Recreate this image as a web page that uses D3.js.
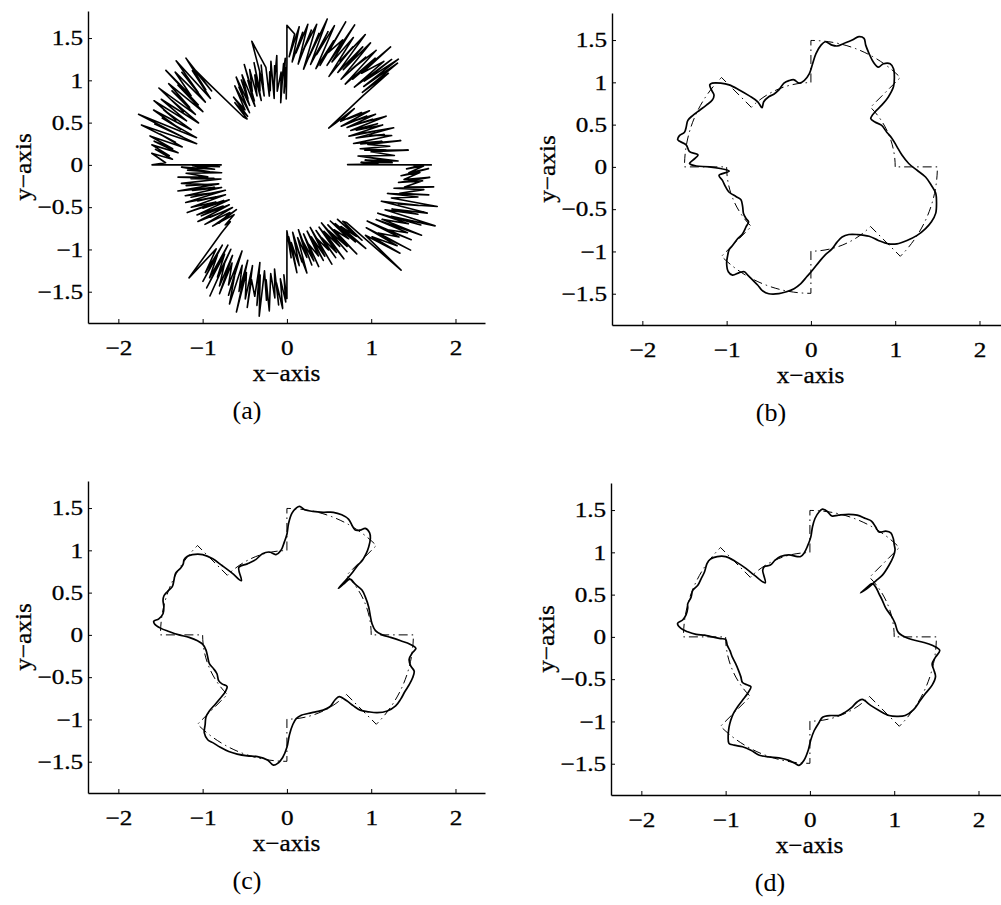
<!DOCTYPE html>
<html>
<head>
<meta charset="utf-8">
<script src="https://cdn.jsdelivr.net/npm/d3@7"></script>
<style>
  body { margin: 0; background: #fff; }
  svg text { font-family: "Liberation Serif", "Times New Roman", serif; fill: #000; }
</style>
</head>
<body>
<div id="chart"></div>
<script>
// tick values and panel captions shared by the four plots
const xTicks = [-2, -1, 0, 1, 2];
const yTicks = [-1.5, -1, -0.5, 0, 0.5, 1, 1.5];
const panelNames = ["(a)", "(b)", "(c)", "(d)"];

// desired path (dash-dot): start angle of each 45 degree sector and its radius
const refSectorStart = [0, 45, 90, 135, 180, 225, 270, 315];
const refSectorRadius = [1, 1.5, 1, 1.5, 1, 1.5, 1, 1.5];

// (a) measured noisy path, [angle in degrees, radius], one array per sector
const noisyS1 = [[0,1.72],[0.2,0.72],[0.5,1.08],[1.9,0.88],[1.2,1.25],[3.5,0.93],[2.0,1.32],[5.3,0.97],[3.2,1.13],[7.1,0.85],[5.0,1.28],[8.8,1.01],[6.9,1.45],[10.6,0.94],[8.5,1.19],[12.4,0.89],[10.2,1.24],[14.1,0.99],[12.0,1.38],[15.8,0.91],[13.9,1.16],[17.7,0.83],[15.6,1.29],[19.5,1.04],[17.3,1.21],[21.2,0.88],[19.1,1.34],[23.0,0.96],[20.9,1.12],[24.8,0.81],[22.6,1.23],[26.5,0.92],[24.4,1.18],[28.3,0.86],[26.1,1.31],[30.0,0.97],[27.9,1.15],[31.8,0.84],[29.7,1.21],[33.5,0.93],[31.4,1.11],[35.3,0.79],[33.2,1.17],[37.1,0.9],[35.0,1.08],[38.9,0.82],[39.8,1.04],[40.6,0.76],[41.3,0.66],[42.2,1.22]];
const noisyS2 = [[42.0,1.62],[43.8,1.24],[42.5,1.78],[45.5,1.3],[43.4,1.82],[47.2,1.35],[45.1,1.76],[49.0,1.22],[46.8,1.68],[50.7,1.4],[48.6,1.86],[52.4,1.28],[50.3,1.64],[54.1,1.18],[52.0,1.72],[55.9,1.36],[53.7,1.58],[57.6,1.2],[55.5,1.75],[59.3,1.31],[57.2,1.66],[61.1,1.25],[58.9,1.8],[62.8,1.38],[60.7,1.6],[64.5,1.16],[62.4,1.7],[66.3,1.33],[64.1,1.84],[68.0,1.27],[65.9,1.62],[69.7,1.42],[67.6,1.83],[71.5,1.24],[69.3,1.57],[73.2,1.19],[71.1,1.74],[74.9,1.35],[72.8,1.65],[76.7,1.22],[74.5,1.79],[78.4,1.3],[76.3,1.6],[80.1,1.15],[78.0,1.7],[81.9,1.37],[79.7,1.62],[83.6,1.2],[81.5,1.68],[85.3,1.33],[83.2,1.58],[87.1,1.22],[84.9,1.64],[88.8,1.28],[86.6,1.55],[90.0,1.65],[90.0,1.2]];
const noisyS3 = [[90.6,0.78],[90.4,1.15],[92.3,0.85],[90.9,1.26],[94.0,0.92],[91.9,1.2],[95.7,0.74],[93.6,1.1],[97.5,0.88],[95.3,1.3],[99.2,0.95],[97.1,1.18],[100.9,0.8],[98.8,1.24],[102.7,0.9],[100.5,1.12],[104.4,0.84],[102.2,1.18],[105.9,1.52],[106.6,0.98],[104.5,1.22],[108.3,0.86],[106.2,1.16],[110.1,0.93],[107.9,1.27],[111.8,0.82],[109.7,1.13],[113.5,0.89],[111.4,1.21],[115.3,0.96],[113.1,1.29],[117.0,0.85],[114.9,1.1],[118.7,0.79],[116.6,1.19],[120.5,0.91],[118.3,1.14],[122.2,0.83],[120.1,1.2],[123.9,0.88],[121.8,1.08],[125.7,0.76],[123.5,1.12],[127.4,0.82],[128.3,1.02],[129.1,0.74],[130.0,0.96],[131.0,0.72],[132.3,0.77],[134.0,1.36]];
const noisyS4 = [[134.2,1.62],[135.6,1.25],[133.5,1.74],[137.3,1.31],[135.2,1.58],[139.1,1.2],[136.9,1.8],[140.8,1.36],[138.7,1.66],[142.5,1.22],[140.4,1.72],[144.3,1.4],[142.1,1.82],[146.0,1.27],[143.9,1.6],[147.7,1.18],[145.6,1.7],[149.5,1.34],[147.3,1.62],[151.2,1.24],[149.1,1.77],[152.9,1.38],[150.8,1.56],[154.7,1.16],[152.5,1.68],[156.4,1.3],[154.3,1.75],[158.1,1.42],[156.0,1.6],[159.9,1.21],[157.7,1.71],[161.6,1.33],[159.5,1.58],[163.3,1.12],[161.2,1.86],[165.1,1.28],[162.9,1.64],[166.8,1.1],[164.7,1.79],[168.5,1.35],[166.4,1.55],[170.3,1.26],[168.1,1.66],[172.0,1.37],[169.9,1.6],[173.7,1.3],[171.6,1.62],[175.5,1.4],[173.3,1.57],[177.2,1.36],[175.1,1.61],[179.0,1.44],[180.0,1.6],[180.0,0.78]];
const noisyS5 = [[180.8,1.02],[181.6,0.8],[180.5,1.12],[183.4,0.86],[181.2,1.25],[185.1,0.92],[183.0,1.18],[186.8,0.78],[184.7,1.2],[188.6,0.95],[186.4,1.3],[190.3,0.88],[188.2,1.15],[192.0,0.8],[189.9,1.27],[193.8,0.97],[191.6,1.22],[195.5,0.84],[193.4,1.33],[197.2,0.9],[195.1,1.16],[199.0,0.82],[196.8,1.26],[200.7,0.94],[198.6,1.2],[202.4,0.79],[200.3,1.28],[204.2,0.92],[202.0,1.14],[205.9,0.81],[203.8,1.24],[207.6,0.95],[205.5,1.31],[209.4,0.86],[207.2,1.12],[211.1,0.8],[209.0,1.22],[212.8,0.9],[210.7,1.18],[214.6,0.83],[212.4,1.25],[216.3,0.93],[214.2,1.1],[218.0,0.82],[215.9,1.2],[219.8,0.88],[220.6,1.06],[221.5,0.8],[219.4,1.14],[223.2,0.86],[224.1,1.02],[225.0,0.95],[226.0,1.12],[229.0,1.77]];
const noisyS6 = [[229.8,1.3],[232.8,1.6],[231.1,1.22],[234.1,1.7],[232.3,1.35],[235.5,1.62],[233.6,1.18],[236.8,1.74],[235.0,1.29],[238.1,1.56],[236.3,1.2],[239.5,1.8],[237.6,1.38],[240.8,1.64],[238.9,1.25],[242.3,1.72],[240.7,1.33],[244.0,1.58],[242.4,1.15],[245.8,1.69],[244.1,1.4],[247.5,1.78],[245.9,1.3],[249.2,1.6],[247.6,1.22],[251.0,1.84],[249.3,1.36],[252.7,1.66],[251.1,1.26],[254.4,1.75],[252.8,1.42],[256.2,1.6],[254.5,1.2],[257.9,1.7],[256.3,1.34],[259.6,1.82],[258.0,1.28],[261.4,1.62],[259.7,1.38],[263.1,1.74],[261.5,1.3],[264.8,1.58],[263.2,1.24],[266.6,1.66],[264.9,1.4],[268.3,1.7],[266.7,1.35],[269.5,1.62],[268.4,1.3],[269.8,1.56],[270.0,1.58],[270.0,0.78]];
const noisyS7 = [[272.6,1.1],[271.4,0.85],[275.3,1.28],[273.2,0.92],[277.0,1.2],[274.9,0.8],[278.8,1.16],[276.6,0.95],[280.5,1.3],[278.4,0.87],[282.2,1.12],[280.1,0.78],[284.0,1.22],[281.8,0.92],[285.7,1.18],[283.6,0.84],[287.4,1.26],[285.3,0.97],[289.2,1.14],[287.0,0.82],[290.9,1.21],[288.8,0.9],[292.6,1.17],[290.5,0.79],[294.4,1.29],[292.2,0.94],[296.1,1.12],[294.0,0.85],[297.8,1.24],[295.7,0.96],[299.6,1.19],[297.4,0.83],[301.3,1.3],[299.2,0.9],[303.0,1.15],[300.9,0.8],[304.8,1.25],[302.6,0.93],[306.5,1.2],[304.4,0.86],[308.2,1.34],[306.1,0.95],[310.0,1.14],[307.8,0.84],[311.7,1.22],[309.6,0.9],[313.4,1.36],[311.3,0.97],[314.2,1.18],[313.0,0.88],[315.0,1.26],[314.8,0.94],[316.0,0.98],[317.4,1.84]];
const noisyS8 = [[318.2,1.25],[322.1,1.7],[319.9,1.32],[323.8,1.62],[321.7,1.2],[325.5,1.78],[323.4,1.35],[327.3,1.58],[325.1,1.16],[329.0,1.72],[326.9,1.4],[330.7,1.64],[328.6,1.24],[332.5,1.8],[330.3,1.3],[334.2,1.6],[332.1,1.22],[335.9,1.74],[333.8,1.38],[337.7,1.9],[335.5,1.28],[339.4,1.66],[337.3,1.35],[341.1,1.76],[339.0,1.2],[342.9,1.63],[340.7,1.4],[344.6,1.85],[342.5,1.3],[346.3,1.6],[344.2,1.24],[348.1,1.72],[345.9,1.38],[349.8,1.65],[347.7,1.3],[351.5,1.76],[349.4,1.42],[353.3,1.62],[351.1,1.34],[355.0,1.7],[352.9,1.4],[356.7,1.58],[354.6,1.36],[358.5,1.68],[356.3,1.45],[359.5,1.62],[358.1,1.42],[359.8,1.6],[359.6,1.5]];

// (b)-(d) tracked paths, [x, y], read clockwise from the upper left arm
const trackB = [[-0.32,0.99],[-0.26,1.02],[-0.2,1.03],[-0.14,0.99],[-0.08,1.02],[-0.02,1.1],[0.02,1.22],[0.06,1.34],[0.12,1.44],[0.17,1.48],[0.25,1.44],[0.31,1.43],[0.39,1.46],[0.49,1.5],[0.57,1.54],[0.63,1.52],[0.65,1.44],[0.69,1.34],[0.74,1.24],[0.8,1.18],[0.86,1.22],[0.94,1.22],[0.98,1.16],[0.99,1.06],[0.98,0.95],[0.92,0.83],[0.84,0.73],[0.76,0.65],[0.71,0.57],[0.76,0.53],[0.84,0.49],[0.9,0.41],[0.96,0.34],[1.02,0.24],[1.08,0.14],[1.16,0.04],[1.26,-0.04],[1.36,-0.12],[1.43,-0.22],[1.48,-0.31],[1.49,-0.43],[1.48,-0.55],[1.43,-0.65],[1.36,-0.73],[1.26,-0.81],[1.14,-0.87],[1.02,-0.91],[0.92,-0.91],[0.8,-0.87],[0.69,-0.82],[0.55,-0.8],[0.45,-0.8],[0.37,-0.83],[0.31,-0.89],[0.25,-0.97],[0.17,-1.04],[0.1,-1.12],[0.02,-1.22],[-0.05,-1.3],[-0.12,-1.38],[-0.2,-1.44],[-0.3,-1.48],[-0.38,-1.5],[-0.5,-1.5],[-0.58,-1.46],[-0.63,-1.4],[-0.69,-1.34],[-0.75,-1.28],[-0.79,-1.24],[-0.85,-1.25],[-0.93,-1.28],[-0.98,-1.24],[-1.0,-1.14],[-0.99,-1.06],[-0.97,-0.98],[-0.93,-0.93],[-0.87,-0.85],[-0.81,-0.79],[-0.77,-0.71],[-0.74,-0.65],[-0.77,-0.61],[-0.8,-0.55],[-0.81,-0.47],[-0.83,-0.39],[-0.89,-0.35],[-0.97,-0.3],[-1.01,-0.24],[-1.05,-0.16],[-1.09,-0.1],[-0.97,-0.05],[-1.2,0.0],[-1.36,0.01],[-1.44,0.04],[-1.4,0.08],[-1.34,0.14],[-1.44,0.18],[-1.48,0.26],[-1.58,0.32],[-1.56,0.37],[-1.5,0.41],[-1.48,0.47],[-1.46,0.55],[-1.4,0.61],[-1.32,0.67],[-1.24,0.73],[-1.17,0.79],[-1.15,0.85],[-1.18,0.91],[-1.2,0.97],[-1.17,0.99],[-1.07,0.99],[-0.97,0.97],[-0.85,0.91],[-0.73,0.84],[-0.63,0.77],[-0.58,0.7],[-0.56,0.77],[-0.5,0.83],[-0.44,0.86],[-0.38,0.91]];
const trackC = [[-0.54,0.64],[-0.57,0.8],[-0.47,0.84],[-0.37,0.89],[-0.29,0.96],[-0.21,0.98],[-0.13,0.95],[-0.07,1.0],[-0.03,1.1],[0.0,1.19],[0.02,1.32],[0.06,1.44],[0.11,1.5],[0.15,1.52],[0.21,1.48],[0.31,1.46],[0.43,1.45],[0.55,1.45],[0.65,1.42],[0.73,1.37],[0.77,1.3],[0.81,1.24],[0.87,1.24],[0.93,1.26],[0.98,1.21],[0.99,1.14],[0.97,1.04],[0.94,0.96],[0.9,0.89],[0.83,0.81],[0.77,0.73],[0.71,0.66],[0.61,0.55],[0.67,0.6],[0.75,0.66],[0.81,0.6],[0.89,0.53],[0.93,0.45],[0.97,0.33],[0.99,0.22],[1.01,0.13],[1.05,0.05],[1.13,0.0],[1.23,-0.03],[1.35,-0.07],[1.46,-0.11],[1.53,-0.16],[1.49,-0.21],[1.45,-0.29],[1.47,-0.37],[1.51,-0.43],[1.49,-0.51],[1.45,-0.59],[1.4,-0.67],[1.35,-0.76],[1.29,-0.84],[1.19,-0.9],[1.07,-0.92],[0.97,-0.91],[0.87,-0.89],[0.79,-0.84],[0.71,-0.78],[0.62,-0.73],[0.57,-0.77],[0.51,-0.85],[0.43,-0.89],[0.34,-0.91],[0.25,-0.93],[0.17,-0.95],[0.11,-0.99],[0.07,-1.06],[0.03,-1.18],[0.0,-1.33],[-0.05,-1.45],[-0.11,-1.52],[-0.16,-1.54],[-0.23,-1.48],[-0.35,-1.44],[-0.47,-1.43],[-0.59,-1.41],[-0.69,-1.38],[-0.79,-1.33],[-0.87,-1.28],[-0.94,-1.24],[-0.98,-1.16],[-0.97,-1.06],[-0.96,-0.97],[-0.92,-0.9],[-0.85,-0.82],[-0.79,-0.75],[-0.73,-0.67],[-0.71,-0.61],[-0.77,-0.58],[-0.81,-0.54],[-0.83,-0.46],[-0.87,-0.4],[-0.92,-0.34],[-0.94,-0.26],[-0.96,-0.18],[-1.0,-0.11],[-1.06,-0.07],[-1.16,-0.03],[-1.28,0.0],[-1.4,0.04],[-1.5,0.08],[-1.57,0.13],[-1.58,0.16],[-1.52,0.19],[-1.47,0.25],[-1.46,0.33],[-1.47,0.41],[-1.46,0.46],[-1.42,0.51],[-1.36,0.57],[-1.34,0.65],[-1.32,0.73],[-1.26,0.79],[-1.23,0.84],[-1.22,0.89],[-1.18,0.93],[-1.12,0.95],[-1.0,0.95],[-0.88,0.9],[-0.77,0.82],[-0.65,0.73]];
const trackD = [[-0.53,0.64],[-0.56,0.79],[-0.54,0.83],[-0.47,0.85],[-0.41,0.91],[-0.35,0.95],[-0.25,0.97],[-0.15,0.95],[-0.11,0.95],[-0.07,0.99],[-0.03,1.07],[0.01,1.18],[0.03,1.3],[0.06,1.4],[0.11,1.48],[0.15,1.51],[0.21,1.48],[0.26,1.43],[0.34,1.44],[0.46,1.45],[0.56,1.44],[0.66,1.4],[0.73,1.37],[0.78,1.3],[0.82,1.24],[0.9,1.25],[0.96,1.23],[0.99,1.16],[1.0,1.09],[1.01,1.03],[0.99,0.95],[0.94,0.85],[0.86,0.73],[0.78,0.66],[0.7,0.59],[0.6,0.52],[0.66,0.57],[0.74,0.63],[0.78,0.59],[0.82,0.51],[0.86,0.43],[0.9,0.34],[0.97,0.24],[1.01,0.16],[1.05,0.05],[1.17,-0.02],[1.33,-0.06],[1.45,-0.1],[1.54,-0.16],[1.49,-0.24],[1.45,-0.32],[1.47,-0.39],[1.49,-0.47],[1.45,-0.57],[1.37,-0.67],[1.31,-0.75],[1.23,-0.86],[1.13,-0.93],[1.03,-0.94],[0.94,-0.93],[0.82,-0.87],[0.72,-0.81],[0.62,-0.74],[0.56,-0.77],[0.5,-0.83],[0.42,-0.89],[0.34,-0.93],[0.25,-0.93],[0.15,-0.95],[0.11,-1.01],[0.05,-1.11],[0.01,-1.22],[-0.02,-1.34],[-0.07,-1.46],[-0.13,-1.52],[-0.17,-1.5],[-0.25,-1.46],[-0.37,-1.43],[-0.49,-1.42],[-0.6,-1.4],[-0.7,-1.34],[-0.8,-1.3],[-0.9,-1.28],[-0.96,-1.26],[-0.97,-1.18],[-0.96,-1.07],[-0.94,-0.99],[-0.91,-0.91],[-0.86,-0.83],[-0.8,-0.75],[-0.74,-0.67],[-0.7,-0.59],[-0.74,-0.57],[-0.8,-0.54],[-0.82,-0.47],[-0.85,-0.39],[-0.88,-0.32],[-0.92,-0.24],[-0.95,-0.16],[-0.98,-0.1],[-1.0,-0.03],[-1.06,-0.02],[-1.16,0.0],[-1.25,0.02],[-1.35,0.03],[-1.45,0.06],[-1.53,0.1],[-1.57,0.16],[-1.51,0.2],[-1.47,0.26],[-1.45,0.34],[-1.45,0.39],[-1.41,0.47],[-1.39,0.55],[-1.33,0.61],[-1.29,0.69],[-1.25,0.77],[-1.22,0.87],[-1.18,0.92],[-1.1,0.95],[-1.0,0.95],[-0.88,0.89],[-0.76,0.81],[-0.66,0.73]];

const width = 1001;
const height = 905;
const panelW = 397;
const panelH = 312;
const toRad = Math.PI / 180;

const noisy = [].concat(noisyS1, noisyS2, noisyS3, noisyS4, noisyS5, noisyS6, noisyS7, noisyS8);

const panels = [
  { left: 88, top: 11, name: panelNames[0], noisy: noisy },
  { left: 612, top: 13, name: panelNames[1], track: trackB },
  { left: 88, top: 481, name: panelNames[2], track: trackC },
  { left: 611, top: 483, name: panelNames[3], track: trackD }
];

// tick labels with a real minus sign and no trailing zeros
const fmt = d => (d < 0 ? "\u2212" : "") + Math.abs(d);

const svg = d3.select("#chart")
  .append("svg")
  .attr("width", width)
  .attr("height", height);

// dash-dot desired path built from the sector arrays
function refPath(xScale, yScale) {
  const path = d3.path();
  const cx = xScale(0);
  const cy = yScale(0);
  const unit = xScale(1) - xScale(0);
  refSectorStart.forEach(function(a0, i) {
    const a1 = i + 1 < refSectorStart.length ? refSectorStart[i + 1] : 360;
    const r = refSectorRadius[i] * unit;
    if (i === 0) path.moveTo(cx + r * Math.cos(-a0 * toRad), cy + r * Math.sin(-a0 * toRad));
    path.arc(cx, cy, r, -a0 * toRad, -a1 * toRad, true);
  });
  path.closePath();
  return path.toString();
}

panels.forEach(function(p) {

  const xScale = d3.scaleLinear()
    .domain([-2.36, 2.35])
    .range([p.left, p.left + panelW]);

  const yScale = d3.scaleLinear()
    .domain([-1.87, 1.82])
    .range([p.top + panelH, p.top]);

  const g = svg.append("g");

  if (p.noisy) {
    const line = d3.line()
      .x(d => xScale(d[1] * Math.cos(d[0] * toRad)))
      .y(d => yScale(d[1] * Math.sin(d[0] * toRad)));

    g.append("path")
      .datum(p.noisy)
      .attr("d", line)
      .attr("fill", "none")
      .attr("stroke", "#000")
      .attr("stroke-width", 1.6)
      .attr("stroke-linejoin", "round");
  } else {
    g.append("path")
      .attr("d", refPath(xScale, yScale))
      .attr("fill", "none")
      .attr("stroke", "#000")
      .attr("stroke-width", 1)
      .attr("stroke-dasharray", "9,4,1.5,4");

    const line = d3.line()
      .x(d => xScale(d[0]))
      .y(d => yScale(d[1]))
      .curve(d3.curveCatmullRomClosed.alpha(0.5));

    g.append("path")
      .datum(p.track)
      .attr("d", line)
      .attr("fill", "none")
      .attr("stroke", "#000")
      .attr("stroke-width", 1.7)
      .attr("stroke-linejoin", "round");
  }

  // MATLAB style axes: left and bottom only, ticks pointing inwards
  const xAxis = g.append("g")
    .attr("transform", `translate(0,${p.top + panelH})`)
    .call(d3.axisBottom(xScale).tickValues(xTicks).tickFormat(fmt)
      .tickSizeInner(-4).tickSizeOuter(0).tickPadding(17));

  const yAxis = g.append("g")
    .attr("transform", `translate(${p.left},0)`)
    .call(d3.axisLeft(yScale).tickValues(yTicks).tickFormat(fmt)
      .tickSizeInner(-4).tickSizeOuter(0).tickPadding(4));

  [xAxis, yAxis].forEach(function(a) {
    a.attr("font-size", 21).attr("font-family", "Liberation Serif, serif");
    a.select(".domain").attr("stroke", "#000").attr("stroke-width", 1.4);
    a.selectAll(".tick line").attr("stroke", "#000").attr("stroke-width", 1);
    a.selectAll(".tick text")
      .attr("fill", "#000")
      .attr("stroke", "#000")
      .attr("stroke-width", 0.3)
      .attr("transform", "scale(1.2,1)");
  });

  g.append("text")
    .attr("transform", `translate(${p.left + panelW / 2},${p.top + panelH + 58}) scale(1.1,1)`)
    .attr("text-anchor", "middle")
    .attr("font-size", 23)
    .attr("stroke", "#000")
    .attr("stroke-width", 0.3)
    .text("x\u2212axis");

  g.append("text")
    .attr("transform", `translate(${p.left - 57},${p.top + panelH / 2}) rotate(-90) scale(1.1,1)`)
    .attr("text-anchor", "middle")
    .attr("font-size", 23)
    .attr("stroke", "#000")
    .attr("stroke-width", 0.3)
    .text("y\u2212axis");

  g.append("text")
    .attr("transform", `translate(${p.left + 159},${p.top + panelH + 96})`)
    .attr("text-anchor", "middle")
    .attr("font-size", 26)
    .text(p.name);
});
</script>
</body>
</html>
